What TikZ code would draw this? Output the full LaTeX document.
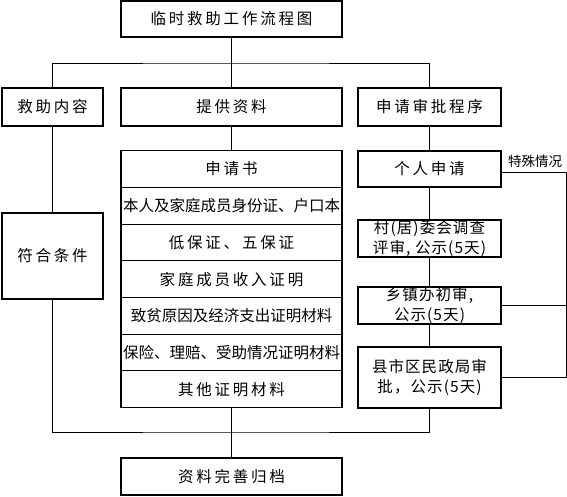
\documentclass[tikz,border=0pt]{standalone}
\usepackage{fontspec}
\setmainfont{Noto Sans CJK SC}
\newfontfamily\widecjk[LetterSpace=18]{Noto Sans CJK SC}
\newfontfamily\midcjk[LetterSpace=7]{Noto Sans CJK SC}

\usetikzlibrary{positioning}

\begin{document}
\begin{tikzpicture}[
		x=1pt, y=-1pt,
		every node/.style={
				font=\fontsize{15.5}{19}\selectfont,
				inner sep=0pt,
				outer sep=0pt,   % borders of stacked rows coincide
				align=center
			},
		box/.style={draw, line width=1.1pt, minimum height=37pt},
		wide/.style={font=\fontsize{15.5}{19}\widecjk},
		spaced/.style={font=\fontsize{15.5}{19.5}\midcjk},
		row/.style={box, minimum width=221pt, minimum height=36.7pt},
		link/.style={line width=0.9pt}
	]
	\useasboundingbox (0,0) rectangle (567,496);

	\node[box, wide, minimum width=221pt, minimum height=36pt] (title) at (231.5,19) {临时救助工作流程图};

	\node[box, wide, minimum width=101pt, minimum height=38pt] (content) at (52.5,107) {救助内容};
	\node[box, wide, minimum width=221pt, minimum height=38pt] (material) at (231.5,107) {提供资料};
	\node[box, wide, minimum width=143pt, minimum height=38pt] (procedure) at (429.5,107) {申请审批程序};

	\node[box, wide, minimum width=101pt, minimum height=86pt] (qualify) at (52.5,256) {符合条件};

	% list of materials
	\node[row, wide] (r1) at (231.5,169) {申请书};
	\node[row, below=0pt of r1] (r2) {本人及家庭成员身份证、户口本};
	\node[row, wide, below=0pt of r2] (r3) {低保证、五保证};
	\node[row, wide, below=0pt of r3] (r4) {家庭成员收入证明};
	\node[row, below=0pt of r4] (r5) {致贫原因及经济支出证明材料};
	\node[row, below=0pt of r5] (r6) {保险、理赔、受助情况证明材料};
	\node[row, wide, below=0pt of r6] (r7) {其他证明材料};

	% approval steps
	\node[box, wide, minimum width=143pt, minimum height=36pt] (apply) at (429.5,169) {个人申请};
	\node[box, spaced, minimum width=143pt] (village) at (429.5,238.5) {村(居)委会调查\\评审, 公示(5天)};
	\node[box, spaced, minimum width=143pt] (town) at (429.5,305.5) {乡镇办初审,\\公示(5天)};
	\node[box, spaced, minimum width=143pt, minimum height=61pt] (county) at (429.5,377.5) {县市区民政局审\\批，公示(5天)};

	\node[box, wide, minimum width=221pt] (archive) at (231.5,476.5) {资料完善归档};

	\node[font=\fontsize{13.5}{15}\selectfont] (special) at (535,161) {特殊情况};

	\coordinate (split) at (231.5,63);
	\coordinate (merge) at (231.5,432);
	\coordinate (bend) at (566,172);

	\draw[link] (title) -- (split);
	\draw[link] (content.north) |- (split) -| (procedure.north);
	\draw[link] (split) -- (material);
	\draw[link] (material) -- (r1);

	\draw[link] (content) -- (qualify);
	\draw[link] (qualify.south) |- (merge) -| (county.south);
	\draw[link] (r7) -- (archive);

	\draw[link] (procedure) -- (apply);
	\draw[link] (apply) -- (village);
	\draw[link] (village) -- (town);
	\draw[link] (town) -- (county);

	\draw[link] (apply.east |- bend) -- (bend) |- (county.east);
	\draw[link] (town.east) -- (town.east -| bend);
\end{tikzpicture}
\end{document}
